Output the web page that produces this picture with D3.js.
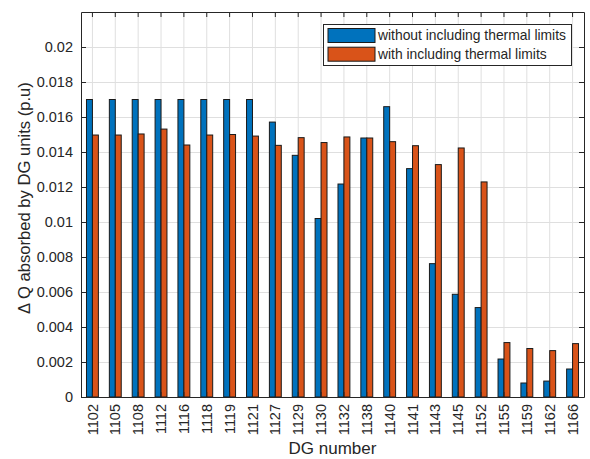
<!DOCTYPE html>
<html lang="en">
<head>
    <title>DG units</title>
    <script src="https://d3js.org/d3.v7.min.js"></script>
    <style>
        body { margin: 0; background: #fff; }
        text { font-family: "Liberation Sans", Arial, sans-serif; fill: #262626; }
    </style>
</head>
<body>
    <svg width="590" height="459" id="mainsvg"></svg>

    <script>
        // data
        const dgNumbers = ['1102', '1105', '1108', '1112', '1116', '1118', '1119', '1121', '1127', '1129', '1130',
                           '1132', '1138', '1140', '1141', '1143', '1145', '1152', '1155', '1159', '1162', '1166']
        const withoutLimits = [0.0170, 0.0170, 0.0170, 0.0170, 0.0170, 0.0170, 0.0170, 0.0170, 0.01571, 0.01381, 0.0102,
                               0.01217, 0.0148, 0.01659, 0.01305, 0.00762, 0.00587, 0.00511, 0.00217, 0.0008, 0.00091, 0.0016]
        const withLimits = [0.01497, 0.01497, 0.01503, 0.01531, 0.0144, 0.01497, 0.0150, 0.01491, 0.01438, 0.01482, 0.01454,
                            0.01486, 0.0148, 0.01459, 0.01436, 0.01328, 0.01423, 0.01229, 0.00311, 0.00277, 0.00265, 0.00305]
        const yTicks = [0, 0.002, 0.004, 0.006, 0.008, 0.01, 0.012, 0.014, 0.016, 0.018, 0.02]
        const yTickLabels = ['0', '0.002', '0.004', '0.006', '0.008', '0.01', '0.012', '0.014', '0.016', '0.018', '0.02']
        const seriesNames = ['without including thermal limits', 'with including thermal limits']
        const seriesColors = ['#0072BD', '#D95319']

        const svg = d3.select('#mainsvg')
        const margin = {top: 12, right: 6, bottom: 62, left: 81}
        const width = +svg.attr('width')
        const height = +svg.attr('height')
        const innerWidth = width - margin.left - margin.right
        const innerHeight = height - margin.top - margin.bottom
        const axisColor = '#262626'

        // shrink/grow a text so it spans the given length
        const fitText = function (sel, base, target) {
            const len = sel.node().getComputedTextLength()
            sel.attr('font-size', (base * target / len).toFixed(2) + 'px')
        }

        const g = svg.append('g').attr('transform', `translate(${margin.left}, ${margin.top})`)

        const xScale = d3.scaleBand().domain(dgNumbers).range([0, innerWidth])
        const yScale = d3.scaleLinear().domain([0, 0.022]).range([innerHeight, 0])
        const bw = xScale.bandwidth()
        const barW = bw * 0.26

        // grid
        g.append('g').selectAll('line').data(dgNumbers).join('line')
            .attr('x1', d => xScale(d) + bw / 2).attr('x2', d => xScale(d) + bw / 2)
            .attr('y1', 0).attr('y2', innerHeight)
            .attr('stroke', '#dfdfdf').attr('stroke-width', 1)
        g.append('g').selectAll('line').data(yTicks).join('line')
            .attr('x1', 0).attr('x2', innerWidth)
            .attr('y1', d => Math.round(yScale(d)) + 0.5).attr('y2', d => Math.round(yScale(d)) + 0.5)
            .attr('stroke', '#dfdfdf').attr('stroke-width', 1)

        // bars
        const series = [withoutLimits, withLimits]
        series.forEach((vals, s) => {
            g.append('g').selectAll('rect').data(dgNumbers).join('rect')
                .attr('x', (d, i) => xScale(d) + bw / 2 + (s - 1) * barW)
                .attr('width', barW)
                .attr('y', (d, i) => yScale(vals[i]))
                .attr('height', (d, i) => innerHeight - yScale(vals[i]))
                .attr('fill', seriesColors[s])
                .attr('stroke', '#1a1a1a')
                .attr('stroke-width', 1)
        })

        // axes
        const yAxis = d3.axisLeft(yScale).tickValues(yTicks)
            .tickFormat((d, i) => yTickLabels[i]).tickSizeInner(-5).tickSizeOuter(0).tickPadding(8)
        const yAxisG = g.append('g').call(yAxis)
        yAxisG.selectAll('text').attr('font-size', '14.5px').attr('fill', axisColor)
            .style('font-family', '"Liberation Sans", Arial, sans-serif')
        yAxisG.selectAll('line, path').attr('stroke', axisColor)

        const yAxisR = d3.axisRight(yScale).tickValues(yTicks).tickFormat('').tickSizeInner(-5).tickSizeOuter(0)
        const yAxisRG = g.append('g').attr('transform', `translate(${innerWidth}, 0)`).call(yAxisR)
        yAxisRG.selectAll('line, path').attr('stroke', axisColor)

        const xAxis = d3.axisBottom(xScale).tickFormat('').tickSizeInner(-5).tickSizeOuter(0)
        const xAxisG = g.append('g').attr('transform', `translate(0, ${innerHeight})`).call(xAxis)
        xAxisG.selectAll('line, path').attr('stroke', axisColor)

        // rotated x tick labels
        g.append('g').selectAll('g').data(dgNumbers).join('g')
            .attr('transform', d => `translate(${xScale(d) + bw / 2}, ${innerHeight + 7}) rotate(-90)`)
            .append('text')
            .text(d => d)
            .attr('text-anchor', 'end')
            .attr('dy', '0.35em')
            .attr('font-size', '14.5px')

        const xAxisT = d3.axisTop(xScale).tickFormat('').tickSizeInner(-5).tickSizeOuter(0)
        const xAxisTG = g.append('g').call(xAxisT)
        xAxisTG.selectAll('line, path').attr('stroke', axisColor)

        // axis labels
        const xLabel = g.append('text')
            .text('DG number')
            .attr('x', innerWidth / 2).attr('y', innerHeight + 57)
            .attr('text-anchor', 'middle').attr('font-size', '16px')
        fitText(xLabel, 16, 88)

        const yLabel = g.append('text')
            .text('Δ Q absorbed by DG units (p.u)')
            .attr('transform', 'rotate(-90)')
            .attr('x', -186).attr('y', -51)
            .attr('text-anchor', 'middle').attr('font-size', '16px')
        fitText(yLabel, 16, 232)

        // legend
        const legend = g.append('g').attr('transform', `translate(${323 - margin.left}, ${24 - margin.top})`)
        legend.append('rect')
            .attr('x', 0.5).attr('y', 0.5).attr('width', 248).attr('height', 41)
            .attr('fill', '#fff').attr('stroke', '#262626').attr('stroke-width', 1)
        seriesNames.forEach((name, i) => {
            legend.append('rect')
                .attr('x', 5).attr('y', 4.5 + i * 18.7).attr('width', 47).attr('height', 14)
                .attr('fill', seriesColors[i]).attr('stroke', '#1a1a1a').attr('stroke-width', 1)
            const t = legend.append('text')
                .text(name)
                .attr('x', 55).attr('y', 11.5 + i * 18.7).attr('dy', '0.35em')
                .attr('font-size', '12.5px')
            if (i === 0) fitText(t, 12.5, 188)
            else t.attr('font-size', legend.select('text').attr('font-size'))
        })
    </script>
</body>
</html>
